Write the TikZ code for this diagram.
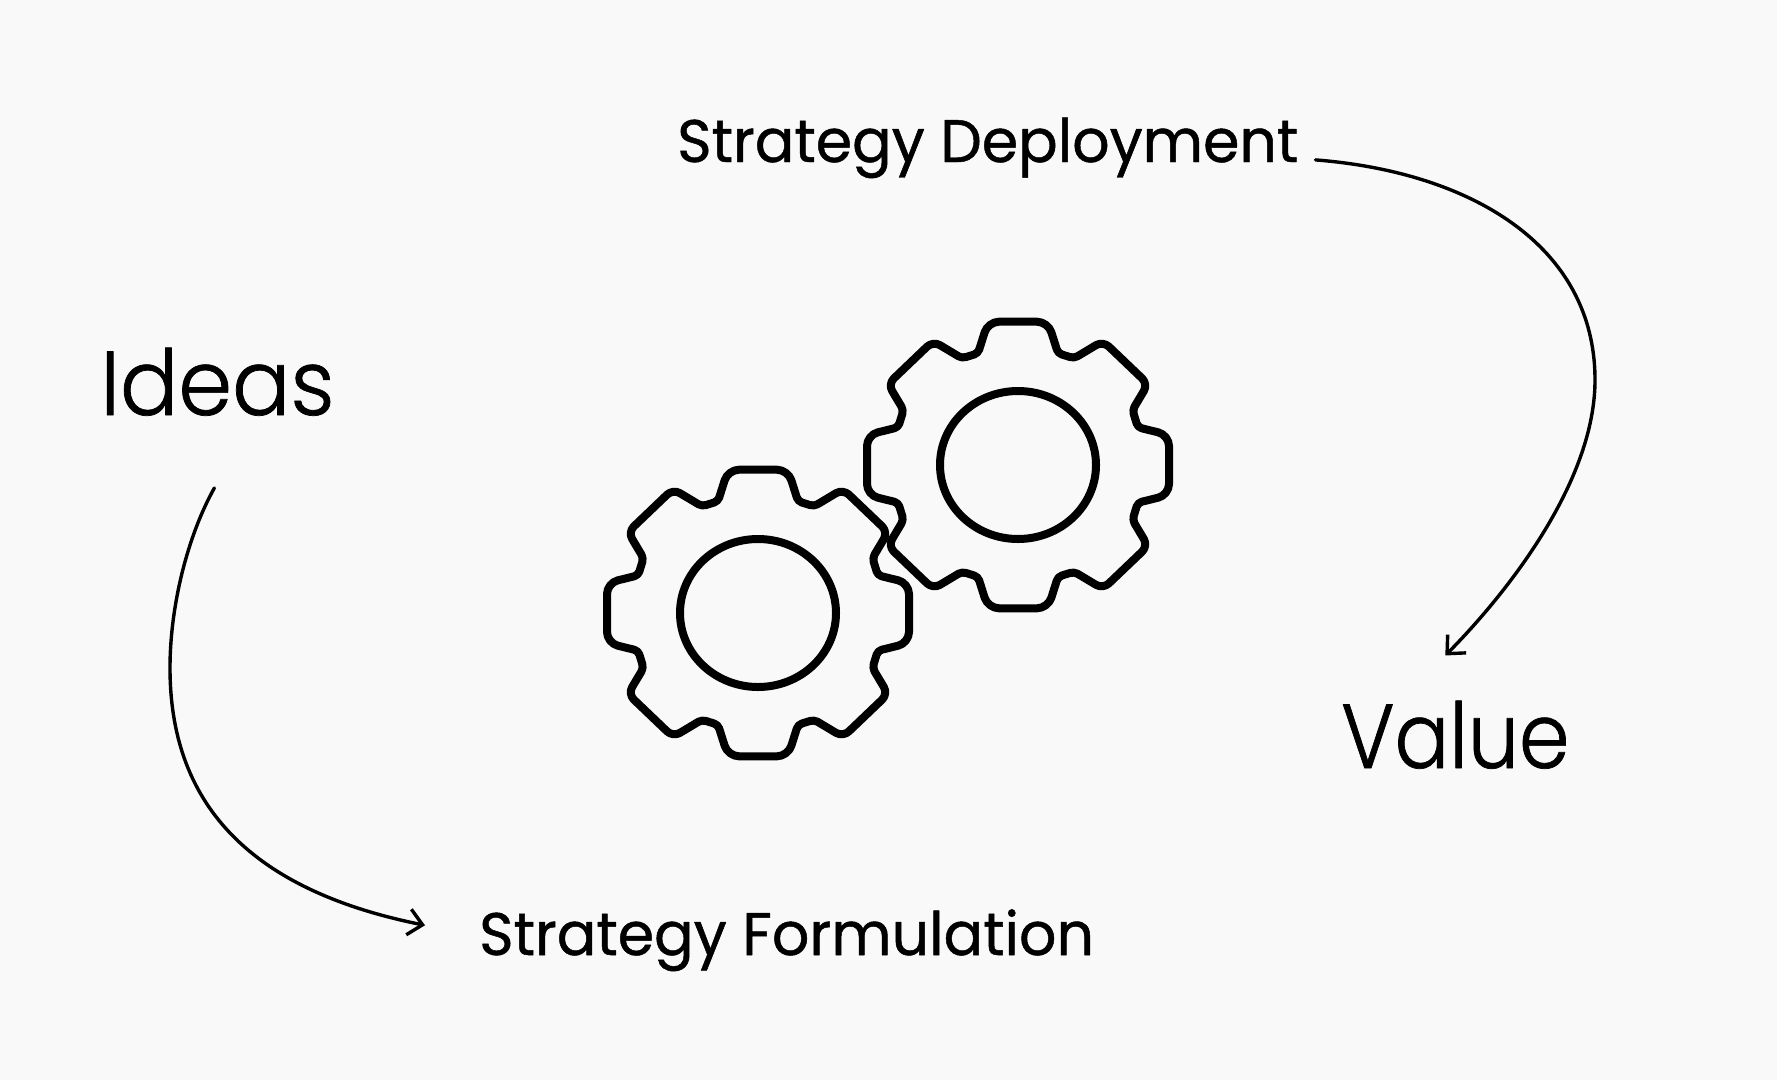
\documentclass[tikz,border=0pt]{standalone}
\usepackage{fontspec}
\setmainfont{Poppins}
\newfontfamily\ideasfont[FakeStretch=.95,FakeBold=.8]{Poppins Light}
\newfontfamily\valuefont[FakeStretch=.89,FakeBold=.8]{Poppins Light}
\newfontfamily\stepfont[FakeStretch=.977,FakeBold=.8]{Poppins}
\usetikzlibrary{arrows.meta}
\definecolor{pagebg}{HTML}{F9F9F9}
\tikzset{
	biglabel/.style={inner sep=0pt,anchor=base west,font=\fontsize{91}{91}\selectfont},
	steplabel/.style={inner sep=0pt,anchor=base west,font=\stepfont\fontsize{60}{60}\selectfont},
	tipround/.style={rounded corners=11pt},
	sideround/.style={rounded corners=8pt},
	notchround/.style={rounded corners=4pt},
	flowline/.style={line width=3.4pt,->},
	gearwheel/.pic={
		\draw[line width=8pt] (0,-143.3) [tipround]--(30,-143.3) [notchround]--(40,-111.7)--(56.1,-106.7) [sideround]--(85,-124)--(130,-81) [notchround]--(114.5,-55)--(119.8,-37.7) [tipround]--(151,-30)
			--(151,30) [notchround]--(119.8,37.7)--(114.5,55) [sideround]--(130,81)--(85,124) [notchround]--(56.1,106.7)--(40,111.7) [tipround]--(30,143.3)
			--(-30,143.3) [notchround]--(-40,111.7)--(-56.1,106.7) [sideround]--(-85,124)--(-130,81) [notchround]--(-114.5,55)--(-119.8,37.7) [tipround]--(-151,30)
			--(-151,-30) [notchround]--(-119.8,-37.7)--(-114.5,-55) [sideround]--(-130,-81)--(-85,-124) [notchround]--(-56.1,-106.7)--(-40,-111.7) [tipround]--(-30,-143.3)--cycle;
		\draw[line width=8pt] (0,0) ellipse [x radius=78,y radius=74];
	}
}
\begin{document}
\begin{tikzpicture}[>={Straight Barb[length=14pt,width=26pt]},line join=round,line cap=round,x=1pt,y=-1pt]
	\fill[pagebg] (0,0) rectangle (1777,1080);
	\useasboundingbox (0,0) rectangle (1777,1080);
	% labels
	\node[biglabel,font=\ideasfont\fontsize{91}{91}\selectfont] (ideas) at (100,415) {Ideas};
	\node[biglabel,font=\valuefont\fontsize{91}{91}\selectfont] (value) at (1341,768) {Value};
	\node[steplabel] (formulation) at (479,955) {Strategy Formulation};
	\node[steplabel] (deployment) at (677,162) {Strategy Deployment};
	% gears
	\pic (gearlow) at (758,613) {gearwheel};
	\pic (gearhigh) at (1018,465) {gearwheel};
	% curves
	\draw[flowline] ([shift={(-3pt,-72pt)}]ideas.south) .. controls (188,535) and (170,605) .. (170,668)
		.. controls (170,800) and (245,889) .. ([shift={(-54pt,15pt)}]formulation.west);
	\draw[flowline] ([shift={(17pt,-12pt)}]deployment.east) .. controls (1470,172) and (1595,245) .. (1595,380)
		.. controls (1595,480) and (1510,590) .. ([shift={(-10pt,45pt)}]value.north);
\end{tikzpicture}
\end{document}
